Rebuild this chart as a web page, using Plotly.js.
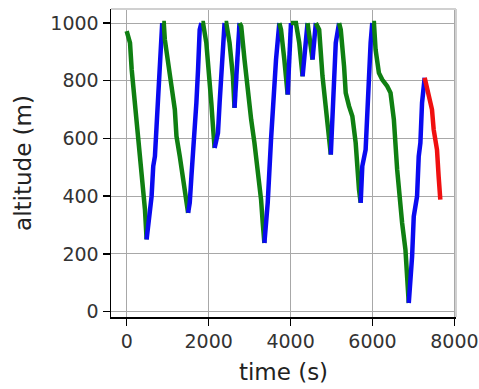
<!DOCTYPE html>
<html>
<head>
<meta charset="utf-8">
<script src="https://cdn.plot.ly/plotly-3.0.1.min.js"></script>
<style>html,body{margin:0;padding:0;background:#fff;}#chart{width:479px;height:389px;}</style>
</head>
<body>
<div id="chart"></div>
<script>
// time (s) of each sample
const time = [
  0, 81, 122, 162, 243, 365, 446, 486,
  527, 567, 608, 648, 689, 729, 770, 810, 851, 867,
  905, 931, 1012, 1094, 1175, 1215, 1296, 1377, 1458, 1499,
  1539, 1580, 1620, 1661, 1701, 1742, 1782, 1823,
  1863, 1944, 2025, 2066, 2106, 2146,
  2228, 2268, 2309, 2349, 2389,
  2430, 2511, 2592, 2632,
  2673, 2714, 2754,
  2795, 2876, 2957, 3038, 3118, 3199, 3280, 3321, 3361,
  3442, 3523, 3564, 3645, 3726,
  3767, 3848, 3929,
  3969, 4010,
  4131, 4212, 4293,
  4333, 4415,
  4455, 4536,
  4617,
  4698, 4779, 4860, 4941, 4982,
  5063, 5103, 5184,
  5225, 5306, 5346, 5427, 5508, 5589, 5630, 5670, 5711,
  5751, 5832, 5873, 5913, 5954, 5994,
  6035, 6075, 6156, 6237, 6359, 6440, 6521, 6602, 6683, 6723, 6804, 6885,
  6967, 7007, 7088, 7128, 7169, 7209, 7273,
  7331, 7412, 7452, 7493, 7574, 7614, 7655
];
// altitude (m) of each sample
const altitude = [
  972, 931, 839, 781, 654, 504, 354, 250,
  307, 377, 400, 504, 538, 642, 746, 873, 954, 1000,
  1000, 943, 873, 781, 700, 608, 538, 458, 377, 342,
  377, 469, 550, 608, 723, 839, 977, 1000,
  1000, 931, 816, 723, 642, 567,
  619, 723, 816, 931, 1000,
  1000, 931, 816, 706,
  816, 931, 1000,
  989, 873, 758, 666, 585, 492, 388, 307, 238,
  377, 596, 700, 873, 1000,
  977, 873, 752,
  873, 1000,
  1000, 931, 815,
  873, 1000,
  954, 873,
  1000,
  977, 816, 700, 608, 544,
  793, 931, 1000,
  977, 850, 758, 712, 677, 585, 492, 423, 377,
  504, 561, 700, 793, 931, 1000,
  1000, 908, 827, 804, 781, 758, 666, 492, 354, 307, 215, 30,
  192, 330, 400, 538, 585, 723, 810,
  769, 723, 700, 631, 561, 469, 388
];
// index of the last sample of each flight phase, and its kind
const phaseEnd  = [7, 17, 27, 35, 41, 46, 50, 53, 62, 67, 70, 72, 75, 77, 79, 80, 85, 88, 97, 103, 115, 122, 129];
const phaseKind = ['sink','climb','sink','climb','sink','climb','sink','climb','sink','climb','sink','climb',
                   'sink','climb','sink','climb','sink','climb','sink','climb','sink','climb','final'];
const xTicks = [0, 2000, 4000, 6000, 8000];
const yTicks = [0, 200, 400, 600, 800, 1000];

const kindColor = {sink: '#0f7f12', climb: '#0a0af0', final: '#f01010'};

const traces = [];
let start = 0;
phaseEnd.forEach((end, i) => {
  traces.push({
    x: time.slice(start, end + 1),
    y: altitude.slice(start, end + 1),
    mode: 'lines',
    type: 'scatter',
    line: {color: kindColor[phaseKind[i]], width: 4.5},
    hoverinfo: 'skip',
    showlegend: false
  });
  start = end;
});

const font = {family: 'DejaVu Sans, sans-serif', size: 19, color: '#333'};
const titleFont = {family: 'DejaVu Sans, sans-serif', size: 23, color: '#222'};
const layout = {
  width: 479, height: 389,
  margin: {l: 111, r: 23, t: 9, b: 72},
  paper_bgcolor: '#fff', plot_bgcolor: '#fff',
  showlegend: false,
  xaxis: {
    range: [-383, 8038],
    tickvals: xTicks, ticktext: xTicks.map(String),
    ticks: 'outside', ticklen: 7, tickwidth: 1.5, tickcolor: '#000',
    showline: true, linecolor: '#000', linewidth: 1.5,
    showgrid: true, gridcolor: '#a8a8a8', gridwidth: 1,
    zeroline: false, tickfont: font,
    title: {text: 'time (s)', font: titleFont, standoff: 12}
  },
  yaxis: {
    range: [-18.5, 1048.5],
    tickvals: yTicks, ticktext: yTicks.map(String),
    ticks: 'outside', ticklen: 7, tickwidth: 1.5, tickcolor: '#000',
    showline: true, linecolor: '#000', linewidth: 1.5,
    showgrid: true, gridcolor: '#a8a8a8', gridwidth: 1,
    zeroline: false, tickfont: font,
    title: {text: 'altitude (m)', font: titleFont, standoff: 12}
  },
  shapes: [
    {type: 'line', xref: 'paper', yref: 'paper', x0: 0, x1: 1, y0: 1, y1: 1, line: {color: '#d0d0d0', width: 2}},
    {type: 'line', xref: 'paper', yref: 'paper', x0: 1, x1: 1, y0: 0, y1: 1, line: {color: '#d0d0d0', width: 2}}
  ]
};

Plotly.newPlot('chart', traces, layout, {staticPlot: true, displayModeBar: false});
</script>
</body>
</html>
